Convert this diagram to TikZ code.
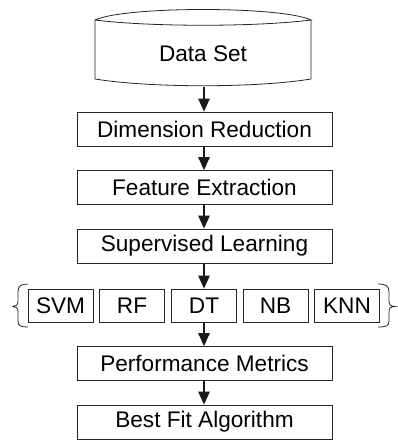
\documentclass[tikz,border=0pt]{standalone}
\usepackage{fontspec}
\setmainfont{Liberation Sans}
\usetikzlibrary{arrows.meta}
\begin{document}
\begin{tikzpicture}[x=1pt,y=1pt,
  box/.style={draw=black!85,line width=0.8pt,minimum width=255pt,minimum height=34pt,inner sep=0pt,font=\fontsize{22.6}{25}\selectfont},
  algbox/.style={draw=black!85,line width=0.8pt,minimum width=65pt,minimum height=33pt,inner sep=0pt,font=\fontsize{22.6}{25}\selectfont},
  flow/.style={draw=black!90,line width=1.1pt,-{Triangle[length=13pt,width=11.5pt]}},
  shapeline/.style={draw=black!85,line width=0.8pt}]
\useasboundingbox (0,0) rectangle (398,-441);
% Data set
\node[minimum width=216pt,minimum height=66pt,inner sep=0pt,font=\fontsize{22.6}{25}\selectfont] (ds) at (203,-54) {Data Set};
\path[shapeline] (95,-20) .. controls (125,-6) and (281,-6) .. (311,-20)
  .. controls (256,-27) and (150,-27) .. (95,-20) -- (95,-79)
  .. controls (150,-88) and (256,-88) .. (311,-79) -- (311,-20);
\node[box] (dr) at (204.5,-129) {Dimension Reduction};
\node[box] (fe) at (204.5,-187.5) {Feature Extraction};
\node[box] (sl) at (204.5,-246) {Supervised Learning};
\node[algbox] (svm) at (60.5,-305.5) {SVM};
\node[algbox] (rf) at (132,-305.5) {RF};
\node[algbox] (dt) at (204,-305.5) {DT};
\node[algbox] (nb) at (275.5,-305.5) {NB};
\node[algbox] (knn) at (347,-305.5) {KNN};
\node[box] (pm) at (204.5,-363.5) {Performance Metrics};
\node[box] (bfa) at (204.5,-422) {Best Fit Algorithm};
% braces
\path[shapeline] (28,-284) .. controls (21,-284) and (18,-286) .. (18,-292) -- (18,-301)
  .. controls (18,-305) and (16,-306.5) .. (13,-306.5)
  .. controls (16,-306.5) and (18,-308) .. (18,-312) -- (18,-321)
  .. controls (18,-326) and (21,-327) .. (28,-327);
\path[shapeline] (378,-284) .. controls (386,-284) and (389,-286) .. (389,-292) -- (389,-301)
  .. controls (389,-305) and (391,-306.5) .. (395,-306.5)
  .. controls (391,-306.5) and (389,-308) .. (389,-312) -- (389,-321)
  .. controls (389,-326) and (386,-327) .. (378,-327);
% arrows
\draw[flow] (ds.south -| dt.north) -- (dr.north -| dt.north);
\draw[flow] (dr.south -| dt.north) -- (fe.north -| dt.north);
\draw[flow] (fe.south -| dt.north) -- (sl.north -| dt.north);
\draw[flow] (sl.south -| dt.north) -- (dt.north);
\draw[flow] (dt.south) -- (pm.north -| dt.south);
\draw[flow] (pm.south -| dt.south) -- (bfa.north -| dt.south);
\end{tikzpicture}
\end{document}
